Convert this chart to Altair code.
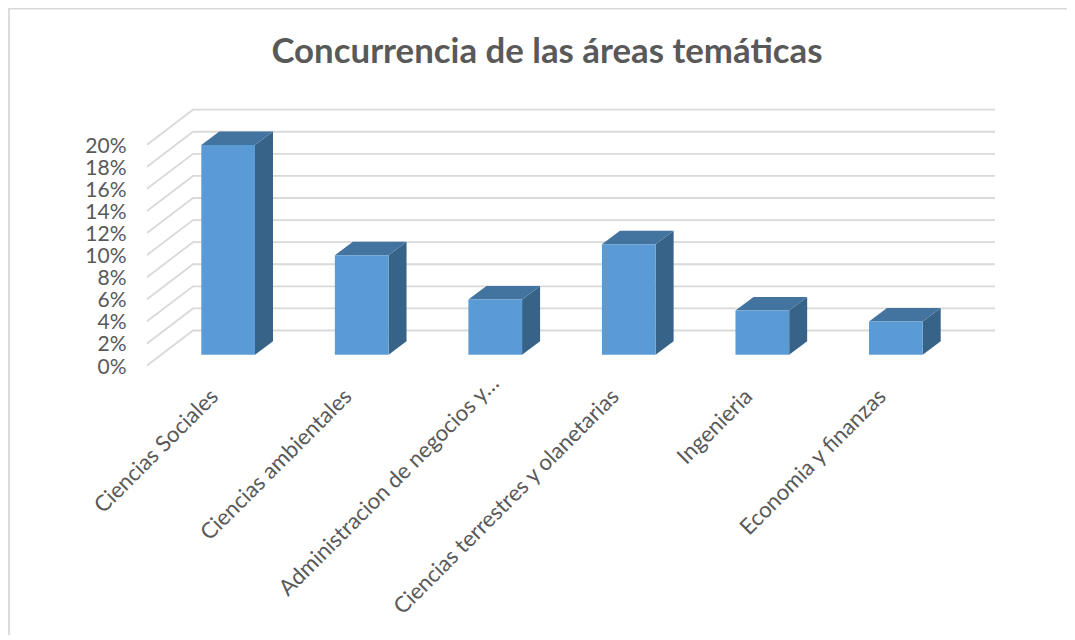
import altair as alt
import pandas as pd

categories = ["Ciencias Sociales", "Ciencias ambientales", "Administracion de negocios y…",
              "Ciencias terrestres y olanetarias", "Ingenieria", "Economia y finanzas"]
values = [19, 9, 5, 10, 4, 3]
ticks = list(range(0, 22, 2))
title = "Concurrencia de las áreas temáticas"

# Chart geometry, in data units (category widths and percentage points)
X0, X1 = -0.1077, 6.2424
Y1 = 24
WALL_X, WALL_Y = 0.3445, 3.17
BAR_W = 0.402
BAR_BASE = 0.98
DEPTH_X, DEPTH_Y = 0.1348, 1.22
LONG_LABEL = 2  # this truncated label sits further up its diagonal
LONG_LABEL_Y = -1.3

grid_rows, side_rows, top_rows, front_rows = [], [], [], []
for t in ticks:
    grid_rows += [dict(t=t, x=X0, y=t),
                  dict(t=t, x=X0 + WALL_X, y=t + WALL_Y),
                  dict(t=t, x=X1, y=t + WALL_Y)]
for i, (c, v) in enumerate(zip(categories, values)):
    l = i + 0.5 - BAR_W / 2
    r = i + 0.5 + BAR_W / 2
    base = BAR_BASE
    top = BAR_BASE + v
    front_rows.append(dict(c=c, x=l, x2=r, y=base, y2=top))
    side_rows += [dict(c=c, x=r, y=base, y2=top),
                  dict(c=c, x=r + DEPTH_X, y=base + DEPTH_Y, y2=top + DEPTH_Y)]
    top_rows += [dict(c=c, x=l, y=top, y2=top),
                 dict(c=c, x=l + DEPTH_X, y=top, y2=top + DEPTH_Y),
                 dict(c=c, x=r, y=top, y2=top + DEPTH_Y),
                 dict(c=c, x=r + DEPTH_X, y=top + DEPTH_Y, y2=top + DEPTH_Y)]

FONT = "Lato"
GREY = "#595959"
xscale = alt.Scale(domain=[X0, X1], nice=False, zero=False)
yscale = alt.Scale(domain=[0, Y1], nice=False, zero=False)
axis_labels = [("" if i == LONG_LABEL else c) for i, c in enumerate(categories)]
label_expr = "[" + ",".join("'%s'" % c for c in axis_labels) + "][floor(datum.value)]"

xq = alt.X("x:Q", scale=xscale, title=None, axis=alt.Axis(
    values=[i + 0.5 for i in range(len(categories))], labelExpr=label_expr,
    labelAngle=-45, labelAlign="right", labelBaseline="middle", labelFontSize=22.2,
    labelFont=FONT, labelColor=GREY, labelPadding=27, labelOffset=-14, labelLimit=500, labelOverlap=False,
    labelFlush=False, labelBound=False, domain=False, ticks=False, grid=False))
yq = alt.Y("y:Q", scale=yscale, title=None, axis=alt.Axis(
    values=ticks, labelExpr="datum.value + '%'", labelFontSize=21, labelFont=FONT,
    labelColor=GREY, labelPadding=21, labelOffset=1.5, domain=False, ticks=False, grid=False,
    labelOverlap=False, labelFlush=False, labelBound=False))

grid = alt.Chart(pd.DataFrame(grid_rows)).mark_line(
    color="#d9d9d9", strokeWidth=1.8, clip=False).encode(x=xq, y=yq, detail="t:N", order="x:Q")
side = alt.Chart(pd.DataFrame(side_rows)).mark_area(color="#386389").encode(
    x=xq, y=yq, y2="y2:Q", detail="c:N")
topf = alt.Chart(pd.DataFrame(top_rows)).mark_area(color="#43749f").encode(
    x=xq, y=yq, y2="y2:Q", detail="c:N")
front = alt.Chart(pd.DataFrame(front_rows)).mark_rect(color="#5b9bd5").encode(
    x=xq, x2="x2:Q", y=yq, y2="y2:Q")
long_label = alt.Chart(pd.DataFrame({"t": [categories[LONG_LABEL]], "x": [LONG_LABEL + 0.5], "y": [LONG_LABEL_Y]})).mark_text(
    font=FONT, fontSize=22.2, color=GREY, align="right", baseline="middle", angle=315, clip=False
).encode(text="t:N", x=xq, y=yq)
frame_left = alt.Chart(pd.DataFrame({"a": [0]})).mark_rule(color="#d9d9d9", strokeWidth=1.8, clip=False).encode(
    x=alt.value(-138), y=alt.value(-92.5), y2=alt.value(534.5))
frame_top = alt.Chart(pd.DataFrame({"a": [0]})).mark_rule(color="#d9d9d9", strokeWidth=1.8, clip=False).encode(
    x=alt.value(-139), x2=alt.value(920), y=alt.value(-92))
title_mark = alt.Chart(pd.DataFrame({"t": [title]})).mark_text(
    font=FONT, fontSize=34.8, fontWeight="bold", color=GREY, align="center", baseline="alphabetic",
    clip=False).encode(text="t:N", x=alt.value(400), y=alt.value(-38))

chart = alt.layer(grid, side, topf, front, long_label, frame_left, frame_top, title_mark).properties(
    width=848, height=265,
    padding={"left": 139, "top": 92.5, "right": 72, "bottom": 269.5},
    autosize=alt.AutoSizeParams(type="none"),
    background="white",
).configure_view(stroke=None)

chart.save("out.html", embed_options={"renderer": "svg", "actions": False})
